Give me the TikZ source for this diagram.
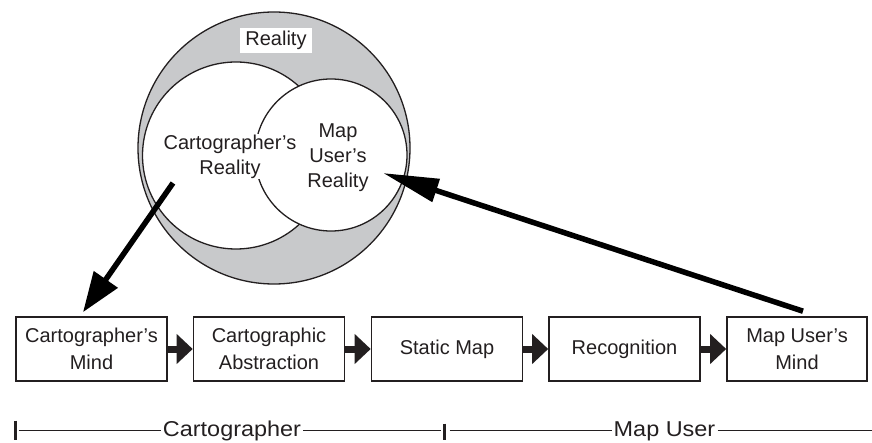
\documentclass[tikz,border=0pt]{standalone}
\usepackage{fontspec}
\setmainfont{Liberation Sans}
\newfontfamily\widesans[FakeStretch=1.09]{Liberation Sans}
\usetikzlibrary{arrows.meta}
\definecolor{ink}{HTML}{231F20}
\definecolor{shade}{HTML}{C8C9CB}
\begin{document}
\begin{tikzpicture}[x=1pt,y=-1pt,
  every node/.style={font=\fontsize{20}{25}\selectfont, text=ink},
  ring/.style={circle, draw=ink, line width=1.3pt, inner sep=0},
  boxnode/.style={draw=ink, line width=1.6pt, minimum width=151pt, minimum height=64pt,
    inner sep=0, align=center, font=\fontsize{20}{27}\selectfont},
  smallarr/.style={draw=ink, line width=7pt, -{Triangle[length=16pt,width=29pt]}},
  bigarr/.style={draw=black, line width=5.5pt},
  scaleline/.style={draw=ink, line width=1pt},
  tickmark/.style={draw=ink, line width=3pt},
  bottomtext/.style={font=\widesans\fontsize{21.5}{26}\selectfont, inner sep=0, anchor=base}
]
\useasboundingbox (0,0) rectangle (872,443);

% Venn circles
\node[ring, fill=shade, minimum size=272pt] (outer) at (274,148) {};
\node[ring, fill=white, minimum size=187pt] (cartc) at (236,155.5) {};
\node[ring, fill=white, minimum size=152pt] (userc) at (331,155) {};

\node[fill=white, minimum width=72pt, minimum height=25pt, inner sep=0] (realtxt) at (276,40.5) {Reality};
\node[align=center, inner sep=1pt, fill=white] (carttxt) at (230,156.5) {Cartographer’s\\Reality};
\node[align=center, inner sep=0] (usertxt) at (338,158) {Map\\User’s\\Reality};

% process boxes
\node[boxnode] (b1) at (91.5,349) {Cartographer’s\\Mind};
\node[boxnode] (b2) at (269,349) {Cartographic\\Abstraction};
\node[boxnode] (b3) at (447,349) {Static Map};
\node[boxnode] (b4) at (624.5,349) {Recognition};
\node[boxnode, minimum width=140pt] (b5) at (797,349) {Map User’s\\Mind};

\draw[smallarr] (b1.east) -- (b2.west);
\draw[smallarr] (b2.east) -- (b3.west);
\draw[smallarr] (b3.east) -- (b4.west);
\draw[smallarr] (b4.east) -- (b5.west);

% big arrows
\coordinate (cs) at ([shift={(-63,27.5)}]cartc.center);
\coordinate (ct) at ([shift={(-8.5,-4)}]b1.north);
\coordinate (us) at ([shift={(6,-5)}]b5.north);
\coordinate (ut) at ([shift={(52,18)}]userc.center);
\draw[bigarr, -{Triangle[length=40pt,width=28pt]}] (cs) -- (ct);
\draw[bigarr, -{Triangle[length=56pt,width=23pt]}] (us) -- (ut);

% bottom scale
\node[bottomtext] (cart) at (232,436) {Cartographer};
\node[bottomtext] (mapu) at (664.5,436) {Map User};
\coordinate (t1) at (15.5,430.5);
\coordinate (t2) at (444.5,430.5);
\coordinate (rend) at (872,430.5);
\draw[tickmark] ([shift={(0,-10)}]t1) -- ([shift={(0,9.5)}]t1);
\draw[tickmark] ([shift={(0,-7)}]t2) -- ([shift={(0,9.5)}]t2);
\draw[scaleline, shorten <=3pt, shorten >=2pt] (t1) -- (t1 -| cart.west);
\draw[scaleline, shorten <=2pt, shorten >=4pt] (t1 -| cart.east) -- (t2);
\draw[scaleline, shorten <=5pt, shorten >=2pt] (t2) -- (t2 -| mapu.west);
\draw[scaleline, shorten <=2pt] (t2 -| mapu.east) -- (rend);
\end{tikzpicture}
\end{document}
